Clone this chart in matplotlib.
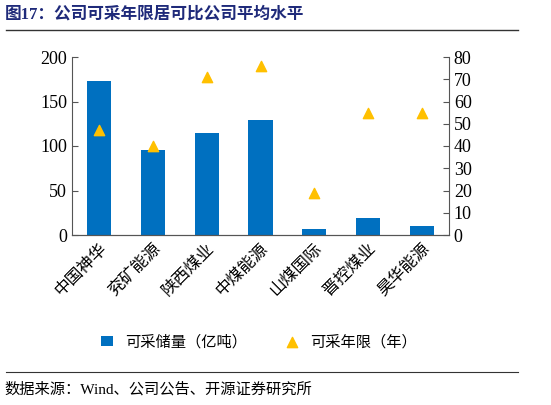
import matplotlib
matplotlib.use("Agg")
import matplotlib.pyplot as plt

plt.rcParams['font.family'] = ['Liberation Serif', 'Noto Sans CJK SC', 'DejaVu Sans']

companies = ['中国神华', '兖矿能源', '陕西煤业', '中煤能源', '山煤国际', '晋控煤业', '昊华能源']
reserves = [173, 95, 115, 129, 7, 19, 10]
years = [47, 40, 71, 76, 19, 55, 55]

fig = plt.figure(figsize=(5.51, 4.05), dpi=100)
ax = fig.add_axes([72/551, 1-235/405, (449-72)/551, (235-57)/405])
x = range(len(companies))
ax.bar(x, reserves, width=0.45, color='#0070C0', label='可采储量（亿吨）')
ax.set_ylim(0, 200)
ax.set_yticks([0, 50, 100, 150, 200])
ax.set_xlim(-0.5, len(companies)-0.5)
ax.set_xticks(list(x))
ax.set_xticklabels(companies, rotation=45, ha='right', rotation_mode='anchor', fontsize=12)
ax2 = ax.twinx()
ax2.scatter(x, years, marker='^', color='#FFC000', s=55, zorder=3, label='可采年限（年）')
ax2.set_ylim(0, 80)
ax2.set_yticks(range(0, 81, 10))
for a in (ax, ax2):
    a.spines['top'].set_visible(False)
    for s in a.spines.values():
        s.set_color('#555555')
    a.tick_params(axis='y', direction='in', length=4, color='#555555', labelsize=13)
ax.spines['right'].set_visible(False)
ax2.spines['left'].set_visible(False)
ax.tick_params(axis='x', length=0, pad=4)

h1, l1 = ax.get_legend_handles_labels()
h2, l2 = ax2.get_legend_handles_labels()
fig.legend(h1+h2, l1+l2, loc='center', bbox_to_anchor=(0.47, 1-342/405), ncol=2,
           frameon=False, fontsize=11, handlelength=0.8, columnspacing=2.5)

fig.text(0.008, 1-14/405, '图17：公司可采年限居可比公司平均水平', color='#1F2A7A',
         fontsize=12, fontweight='bold', va='center')
fig.add_artist(plt.Line2D([0.01, 0.94], [1-30/405]*2, color='#333333', lw=1.0))
fig.add_artist(plt.Line2D([0.01, 0.94], [1-372/405]*2, color='#333333', lw=0.8))
fig.text(0.008, 1-389/405, '数据来源：Wind、公司公告、开源证券研究所', fontsize=11, va='center')
fig.savefig('out.png', dpi=100)
